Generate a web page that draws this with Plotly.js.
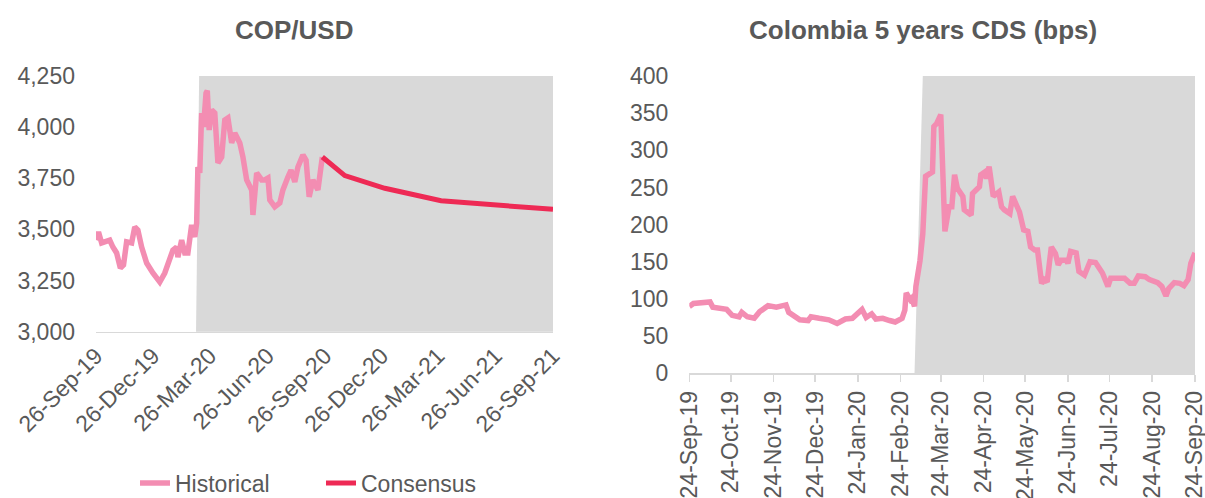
<!DOCTYPE html>
<html>
<head>
<meta charset="utf-8">
<script src="https://cdn.plot.ly/plotly-3.0.1.min.js"></script>
<style>
  html, body { margin: 0; padding: 0; background: #fff; }
  #chart { width: 1205px; height: 498px; }
</style>
</head>
<body>
<div id="chart"></div>
<script>
// ---------------------------------------------------
// Data
// ---------------------------------------------------

// COP/USD, historical
const copDates = [
  "2019-09-26", "2019-09-30", "2019-10-05", "2019-10-18", "2019-10-23", "2019-10-29",
  "2019-11-04", "2019-11-09", "2019-11-14", "2019-11-22", "2019-11-27", "2019-12-02",
  "2019-12-08", "2019-12-16", "2019-12-26", "2020-01-06", "2020-01-14", "2020-01-19",
  "2020-01-27", "2020-02-02", "2020-02-04", "2020-02-10", "2020-02-15", "2020-02-20",
  "2020-02-26", "2020-03-02", "2020-03-05", "2020-03-07", "2020-03-10", "2020-03-13",
  "2020-03-16", "2020-03-20", "2020-03-22", "2020-03-25", "2020-03-29", "2020-04-03",
  "2020-04-08", "2020-04-14", "2020-04-19", "2020-04-24", "2020-04-30", "2020-05-05",
  "2020-05-13", "2020-05-18", "2020-05-24", "2020-06-01", "2020-06-03", "2020-06-09",
  "2020-06-17", "2020-06-22", "2020-06-27", "2020-06-30", "2020-07-08", "2020-07-16",
  "2020-07-21", "2020-07-29", "2020-08-03", "2020-08-09", "2020-08-14", "2020-08-22",
  "2020-08-27", "2020-09-01", "2020-09-07", "2020-09-15", "2020-09-22",
];
const copValues = [
  3448, 3487, 3434, 3448, 3414, 3385,
  3311, 3326, 3439, 3434, 3512, 3497,
  3414, 3336, 3287, 3243, 3287, 3336,
  3399, 3414, 3365, 3448, 3385, 3385,
  3522, 3463, 3531, 3805, 3776, 4069,
  4001, 4167, 4178, 3986, 4084, 4069,
  3825, 3854, 4035, 4045, 3923, 3971,
  3923, 3854, 3742, 3693, 3571, 3776,
  3742, 3742, 3751, 3644, 3610, 3629,
  3693, 3756, 3790, 3732, 3805, 3864,
  3839, 3659, 3742, 3693, 3854,
];

// COP/USD, consensus path
const consensusDates = ["2020-09-22", "2020-10-28", "2020-12-31", "2021-03-31", "2021-09-26"];
const consensusValues = [3854, 3763, 3701, 3640, 3598];

// shaded regime (COVID period) on the left panel
const copShadeDates = ["2020-03-04", "2020-03-09", "2021-09-26"];
const copShadeValues = [3000, 4250, 4250];

// Colombia 5y CDS (bps)
const cdsDates = [
  "2019-09-24", "2019-09-27", "2019-10-09", "2019-10-11", "2019-10-21", "2019-10-25",
  "2019-10-30", "2019-11-01", "2019-11-05", "2019-11-10", "2019-11-14", "2019-11-20",
  "2019-11-26", "2019-12-03", "2019-12-05", "2019-12-09", "2019-12-13", "2019-12-19",
  "2019-12-21", "2019-12-27", "2020-01-03", "2020-01-09", "2020-01-15", "2020-01-20",
  "2020-01-24", "2020-01-27", "2020-01-30", "2020-02-03", "2020-02-06", "2020-02-11",
  "2020-02-16", "2020-02-20", "2020-02-25", "2020-02-27", "2020-02-28", "2020-03-02",
  "2020-03-03", "2020-03-05", "2020-03-06", "2020-03-09", "2020-03-11", "2020-03-12",
  "2020-03-13", "2020-03-18", "2020-03-19", "2020-03-21", "2020-03-24", "2020-03-27",
  "2020-03-30", "2020-04-01", "2020-04-03", "2020-04-05", "2020-04-09", "2020-04-10",
  "2020-04-15", "2020-04-16", "2020-04-21", "2020-04-22", "2020-04-25", "2020-04-26",
  "2020-04-28", "2020-05-01", "2020-05-05", "2020-05-07", "2020-05-09", "2020-05-13",
  "2020-05-15", "2020-05-20", "2020-05-23", "2020-05-26", "2020-05-28", "2020-05-31",
  "2020-06-02", "2020-06-05", "2020-06-07", "2020-06-09", "2020-06-12", "2020-06-15",
  "2020-06-17", "2020-06-19", "2020-06-23", "2020-06-24", "2020-06-26", "2020-06-30",
  "2020-07-02", "2020-07-06", "2020-07-10", "2020-07-14", "2020-07-19", "2020-07-23",
  "2020-07-25", "2020-07-29", "2020-08-04", "2020-08-08", "2020-08-11", "2020-08-14",
  "2020-08-19", "2020-08-22", "2020-08-28", "2020-08-31", "2020-09-03", "2020-09-05",
  "2020-09-09", "2020-09-13", "2020-09-16", "2020-09-19", "2020-09-21", "2020-09-24",
];
const cdsValues = [
  90, 94, 96, 89, 86, 78,
  76, 82, 76, 74, 83, 91,
  89, 92, 82, 78, 72, 71,
  76, 74, 72, 67, 73, 74,
  82, 86, 75, 80, 73, 74,
  71, 69, 74, 85, 108, 99,
  101, 90, 117, 152, 188, 229,
  265, 271, 332, 336, 348, 191,
  224, 224, 267, 249, 238, 220,
  213, 242, 251, 267, 271, 262,
  278, 238, 244, 224, 220, 215,
  238, 217, 193, 191, 170, 166,
  166, 121, 126, 123, 170, 161,
  146, 152, 152, 148, 164, 162,
  137, 132, 150, 149, 135, 117,
  128, 128, 128, 121, 121, 131,
  130, 126, 122, 117, 104, 114,
  122, 121, 118, 126, 148, 162,
];

// shaded regime on the right panel
const cdsShadeDates = ["2020-03-05", "2020-03-11", "2020-09-24"];
const cdsShadeValues = [0, 400, 400];

// ---------------------------------------------------
// Styling
// ---------------------------------------------------

const PINK = "#F38DB2";
const RED = "#EE2A55";
const SHADE = "#D9D9D9";
const TEXT = "#595959";
const FONT = "Liberation Sans, Arial, sans-serif";

const W = 1205;
const H = 498;
const px = (x) => x / W;
const py = (y) => 1 - y / H;

// ---------------------------------------------------
// Plotting
// ---------------------------------------------------

const draw = () => {
  const copShade = {
    x: copShadeDates,
    y: copShadeValues,
    type: "scatter",
    mode: "lines",
    fill: "tozeroy",
    fillcolor: SHADE,
    line: { width: 0, color: SHADE },
    showlegend: false,
    hoverinfo: "skip",
    xaxis: "x",
    yaxis: "y",
  };
  const historical = {
    x: copDates,
    y: copValues,
    name: "Historical",
    type: "scatter",
    mode: "lines",
    line: { color: PINK, width: 5.5 },
    xaxis: "x",
    yaxis: "y",
  };
  const consensus = {
    x: consensusDates,
    y: consensusValues,
    name: "Consensus",
    type: "scatter",
    mode: "lines",
    line: { color: RED, width: 5 },
    xaxis: "x",
    yaxis: "y",
  };
  const cdsShade = {
    x: cdsShadeDates,
    y: cdsShadeValues,
    type: "scatter",
    mode: "lines",
    fill: "tozeroy",
    fillcolor: SHADE,
    line: { width: 0, color: SHADE },
    showlegend: false,
    hoverinfo: "skip",
    xaxis: "x2",
    yaxis: "y2",
  };
  const cds = {
    x: cdsDates,
    y: cdsValues,
    name: "CDS",
    type: "scatter",
    mode: "lines",
    line: { color: PINK, width: 5.5 },
    showlegend: false,
    xaxis: "x2",
    yaxis: "y2",
  };

  const tickFont = { family: FONT, size: 23, color: TEXT };

  const layout = {
    width: W,
    height: H,
    margin: { l: 0, r: 0, t: 0, b: 0, pad: 0, autoexpand: false },
    paper_bgcolor: "#ffffff",
    plot_bgcolor: "rgba(0,0,0,0)",
    font: { family: FONT, size: 23, color: TEXT },
    showlegend: true,
    legend: {
      orientation: "h",
      x: px(135),
      xanchor: "left",
      y: py(483),
      yanchor: "middle",
      font: { family: FONT, size: 23, color: TEXT },
      entrywidth: 141,
      entrywidthmode: "pixels",
      bgcolor: "rgba(0,0,0,0)",
    },
    xaxis: {
      domain: [px(96), px(553)],
      type: "date",
      range: ["2019-09-26", "2021-09-26"],
      tick0: "2019-09-26",
      dtick: "M3",
      tickformat: "%d-%b-%y",
      tickangle: -45,
      tickfont: tickFont,
      ticklabeloverflow: "allow",
      ticks: "",
      showgrid: false,
      zeroline: false,
      showline: true,
      linecolor: SHADE,
      linewidth: 1.5,
      anchor: "y",
      fixedrange: true,
    },
    yaxis: {
      domain: [py(331.7), py(76)],
      range: [3000, 4250],
      dtick: 250,
      tickformat: ",d",
      tickfont: tickFont,
      ticks: "",
      ticklabelstandoff: 20,
      showgrid: false,
      zeroline: false,
      showline: false,
      anchor: "x",
      fixedrange: true,
    },
    xaxis2: {
      domain: [px(689.3), px(1195)],
      type: "date",
      range: ["2019-09-24", "2020-09-24 00:05"],
      tick0: "2019-09-24",
      dtick: "M1",
      tickformat: "%d-%b-%y",
      tickangle: -90,
      tickfont: tickFont,
      ticklabeloverflow: "allow",
      ticks: "outside",
      ticklen: 7,
      tickwidth: 1.5,
      tickcolor: SHADE,
      showgrid: false,
      zeroline: false,
      showline: true,
      linecolor: SHADE,
      linewidth: 1.5,
      anchor: "y2",
      fixedrange: true,
    },
    yaxis2: {
      domain: [py(373.3), py(76)],
      range: [0, 400],
      dtick: 50,
      tickfont: tickFont,
      ticks: "",
      ticklabelstandoff: 20,
      showgrid: false,
      zeroline: false,
      showline: false,
      anchor: "x2",
      fixedrange: true,
    },
    annotations: [
      {
        text: "<b>COP/USD</b>",
        xref: "paper",
        yref: "paper",
        x: px(294),
        y: py(30),
        xanchor: "center",
        yanchor: "middle",
        showarrow: false,
        font: { family: FONT, size: 26, color: TEXT },
      },
      {
        text: "<b>Colombia 5 years CDS (bps)</b>",
        xref: "paper",
        yref: "paper",
        x: px(923),
        y: py(30),
        xanchor: "center",
        yanchor: "middle",
        showarrow: false,
        font: { family: FONT, size: 26, color: TEXT },
      },
    ],
    hovermode: false,
  };

  const config = { staticPlot: true, displayModeBar: false };

  Plotly.newPlot("chart", [copShade, historical, consensus, cdsShade, cds], layout, config);
};

document.addEventListener("DOMContentLoaded", () => {
  draw();
});
</script>
</body>
</html>
